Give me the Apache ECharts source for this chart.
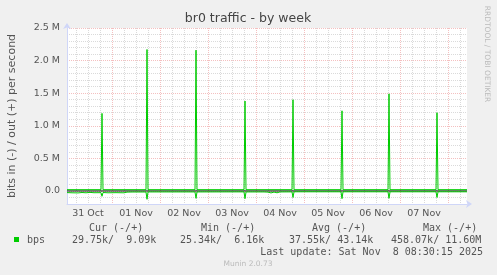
<!DOCTYPE html>
<html>
<head>
<meta charset="utf-8">
<script src="https://cdn.jsdelivr.net/npm/echarts@6/dist/echarts.min.js"></script>
<style>html,body{margin:0;padding:0;background:#F0F0F0;}#c{width:497px;height:275px;}</style>
</head>
<body>
<div id="c"></div>
<script>
// x values: hours since 31 Oct 00:00
var xMin = 1.5, xMax = 201.5;
var dayLabelHours = [12, 36, 60, 84, 108, 132, 156, 180];
var dayLabels = ['31 Oct', '01 Nov', '02 Nov', '03 Nov', '04 Nov', '05 Nov', '06 Nov', '07 Nov'];
var midnightHours = [24, 48, 72, 96, 120, 144, 168, 192];
var minorHours = [6, 12, 18, 30, 36, 42, 54, 60, 66, 78, 84, 90, 102, 108, 114, 126, 132, 138, 150, 156, 162, 174, 180, 186, 198];
var yMajor = [0, 500000, 1000000, 1500000, 2000000, 2500000];
var yMajorLabels = ['0.0', '0.5 M', '1.0 M', '1.5 M', '2.0 M', '2.5 M'];
var yMinor = [-100000, 100000, 200000, 300000, 400000, 600000, 700000, 800000, 900000, 1100000, 1200000, 1300000, 1400000, 1600000, 1700000, 1800000, 1900000, 2100000, 2200000, 2300000, 2400000];

// out (+) series: [hour, bits/s]
var outPoints = [
  [1.5, 20000], [18.5, 20000], [19, 1190000], [19.5, 20000],
  [41, 20000], [41.5, 2170000], [42, 20000],
  [65.5, 20000], [66, 2160000], [66.5, 20000],
  [90, 20000], [90.5, 1380000], [91, 20000],
  [114, 20000], [114.5, 1400000], [115, 20000],
  [138.5, 20000], [139, 1230000], [139.5, 20000],
  [162, 20000], [162.5, 1490000], [163, 20000],
  [186, 20000], [186.5, 1200000], [187, 20000],
  [201.5, 20000]
];
// in (-) series: [hour, -bits/s]
var inPoints = [
  [1.5, -25000], [4, -28000], [5, -22000], [7, -30000], [9, -24000], [11, -28000], [13, -22000], [15, -27000],
  [18.5, -26000], [19, -82000], [19.5, -24000], [22, -28000], [26, -26000], [30, -28000], [31.5, -18000], [32.5, -26000], [34, -16000],
  [41, -16000], [41.5, -128000], [42, -15000],
  [65.5, -15000], [66, -113000], [66.5, -15000],
  [90, -14000], [90.5, -118000], [91, -15000],
  [100, -15000], [101, -28000], [102, -18000], [103.5, -30000], [105, -17000], [106.5, -28000], [108, -15000],
  [114, -14000], [114.5, -100000], [115, -13000],
  [138.5, -13000], [139, -118000], [139.5, -13000],
  [162, -13000], [162.5, -113000], [163, -13000],
  [186, -13000], [186.5, -100000], [187, -13000],
  [201.5, -13000]
];
var zeroPoints = [[xMin, 0], [xMax, 0]];

var legendHeaders = ['Cur (-/+)', 'Min (-/+)', 'Avg (-/+)', 'Max (-/+)'];
var legendValues = ['29.75k/  9.09k', '25.34k/  6.16k', '37.55k/ 43.14k', '458.07k/ 11.60M'];
var legendName = 'bps';
var lastUpdate = 'Last update: Sat Nov  8 08:30:15 2025';

var GREEN = '#00CC00';
var AXISC = '#CFD6F8';
var FONT = 'DejaVu Sans';
var MONO = 'DejaVu Sans Mono';
var TXT = '#555';

var chart = echarts.init(document.getElementById('c'), null, {renderer: 'canvas'});

var headerX = [89, 201, 312, 423];
var valueX = [72, 180, 289, 391];
var graphics = [
  {type: 'text', x: 248, y: 19, style: {text: 'br0 traffic - by week', font: '12.5px ' + FONT, fill: '#444', align: 'center', verticalAlign: 'middle'}},
  {type: 'text', x: 12, y: 116, rotation: Math.PI / 2, style: {text: 'bits in (-) / out (+) per second', font: '11px ' + FONT, fill: TXT, align: 'center', verticalAlign: 'middle'}},
  {type: 'text', x: 487, y: 54, rotation: -Math.PI / 2, style: {text: 'RRDTOOL / TOBI OETIKER', font: '7.5px ' + FONT, fill: '#BBB', align: 'center', verticalAlign: 'middle'}},
  {type: 'rect', shape: {x: 14, y: 237, width: 5, height: 5}, style: {fill: GREEN}},
  {type: 'text', x: 27, y: 240, style: {text: legendName, font: '10px ' + MONO, fill: TXT, align: 'left', verticalAlign: 'middle'}},
  {type: 'text', x: 483, y: 252, style: {text: lastUpdate, font: '10px ' + MONO, fill: TXT, align: 'right', verticalAlign: 'middle'}},
  {type: 'text', x: 248, y: 264, style: {text: 'Munin 2.0.73', font: '7.5px ' + FONT, fill: '#BBB', align: 'center', verticalAlign: 'middle'}}
];
legendHeaders.forEach(function (t, i) {
  graphics.push({type: 'text', x: headerX[i], y: 228, style: {text: t, font: '10px ' + MONO, fill: TXT, align: 'left', verticalAlign: 'middle'}});
});
legendValues.forEach(function (t, i) {
  graphics.push({type: 'text', x: valueX[i], y: 240, style: {text: t, font: '10px ' + MONO, fill: TXT, align: 'left', verticalAlign: 'middle'}});
});

chart.setOption({
  animation: false,
  backgroundColor: '#F0F0F0',
  grid: {left: 67, top: 28, width: 400, height: 176, show: true, backgroundColor: '#FFFFFF', borderWidth: 0, containLabel: false},
  xAxis: [
    {
      type: 'value', min: xMin, max: xMax,
      axisLine: {show: true, onZero: false, lineStyle: {color: AXISC, width: 1}, symbol: ['none', 'arrow'], symbolSize: [6, 6], symbolOffset: [0, 5]},
      axisTick: {show: false, customValues: minorHours},
      splitLine: {show: true, lineStyle: {color: '#DADADA', width: 1, type: [1, 1]}},
      axisLabel: {
        customValues: dayLabelHours, color: TXT, fontSize: 9.5, fontFamily: FONT, margin: 5,
        formatter: function (v) { var i = dayLabelHours.indexOf(v); return i >= 0 ? dayLabels[i] : ''; }
      }
    },
    {
      type: 'value', min: xMin, max: xMax, position: 'bottom',
      axisLine: {show: false, onZero: false},
      axisTick: {show: false, customValues: midnightHours},
      axisLabel: {show: false},
      splitLine: {show: true, lineStyle: {color: 'rgba(225,90,90,0.38)', width: 1, type: [1, 1]}}
    }
  ],
  yAxis: [
    {
      type: 'value', min: -200000, max: 2500000,
      axisLine: {show: true, onZero: false, lineStyle: {color: AXISC, width: 1}, symbol: ['none', 'arrow'], symbolSize: [6, 6], symbolOffset: [0, 5]},
      axisTick: {show: false, customValues: yMinor},
      splitLine: {show: true, lineStyle: {color: '#DADADA', width: 1, type: [1, 1]}},
      axisLabel: {
        customValues: yMajor, color: TXT, fontSize: 9.5, fontFamily: FONT, margin: 7,
        formatter: function (v) { var i = yMajor.indexOf(v); return i >= 0 ? yMajorLabels[i] : ''; }
      }
    },
    {
      type: 'value', min: -200000, max: 2500000, position: 'left',
      axisLine: {show: false, onZero: false},
      axisTick: {show: false, customValues: yMajor},
      axisLabel: {show: false},
      splitLine: {show: true, lineStyle: {color: 'rgba(225,90,90,0.38)', width: 1, type: [1, 1]}}
    }
  ],
  series: [
    {type: 'line', name: 'zero', data: zeroPoints, xAxisIndex: 0, yAxisIndex: 0, showSymbol: false, lineStyle: {color: '#000', width: 1}, z: 2, silent: true},
    {type: 'line', name: 'in', data: inPoints, xAxisIndex: 0, yAxisIndex: 0, showSymbol: false, lineStyle: {color: GREEN, width: 1}, z: 3},
    {type: 'line', name: 'out', data: outPoints, xAxisIndex: 0, yAxisIndex: 0, showSymbol: false, lineStyle: {color: GREEN, width: 1}, z: 3}
  ],
  graphic: graphics
});
</script>
</body>
</html>
